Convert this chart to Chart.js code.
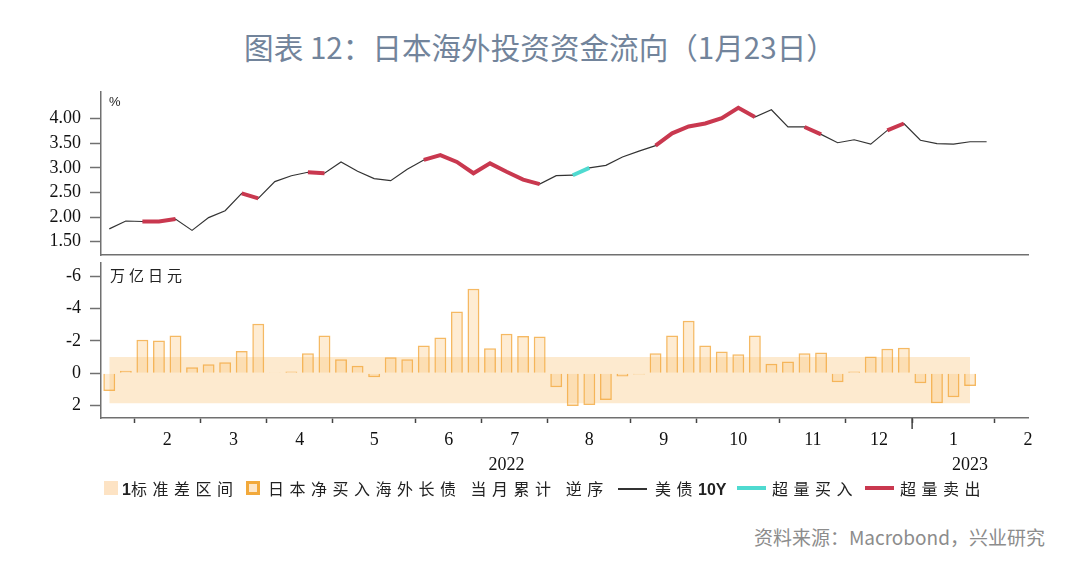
<!DOCTYPE html>
<html>
<head>
<meta charset="utf-8">
<script src="https://cdn.jsdelivr.net/npm/chart.js@4.4.1/dist/chart.umd.min.js"></script>
<style>
  html,body{margin:0;padding:0;background:#fff;}
  body{width:1080px;height:583px;position:relative;overflow:hidden;font-family:"Noto Sans CJK SC","Noto Sans",sans-serif;}
  #title{position:absolute;left:0;top:28px;width:1080px;text-align:center;font-size:29.6px;line-height:38px;color:#72849B;}
  #w1{position:absolute;left:0;top:80px;width:1080px;height:180px;}
  #w2{position:absolute;left:0;top:258px;width:1080px;height:220px;}
  .unit{position:absolute;color:#222;}
  #pct{left:109px;top:94px;font-family:"Liberation Sans",sans-serif;font-size:13px;}
  #yen{left:110px;top:264px;font-size:15px;letter-spacing:4px;line-height:22px;}
  .lg{position:absolute;top:477px;font-size:16px;line-height:22px;color:#222;letter-spacing:5.5px;white-space:nowrap;}
  .num{font-family:"Liberation Sans",sans-serif;font-weight:bold;letter-spacing:0;}
  .sw{position:absolute;}
  #src{position:absolute;right:35px;top:524px;font-size:19px;line-height:26px;color:#8C8C8C;}
</style>
</head>
<body>
<div id="title">图表 12：日本海外投资资金流向（1月23日）</div>
<div id="w1"><canvas id="c1" width="1080" height="180"></canvas></div>
<div id="w2"><canvas id="c2" width="1080" height="220"></canvas></div>
<div class="unit" id="pct">%</div>
<div class="unit" id="yen">万亿日元</div>

<div class="sw" style="left:104px;top:481px;width:14px;height:14px;background:#FDE3C4;"></div>
<div class="lg" style="left:122px;"><span class="num">1</span>标准差区间</div>
<div class="sw" style="left:246px;top:481px;width:14px;height:14px;box-sizing:border-box;border:3px solid #F2A93B;background:#FDE6C8;"></div>
<div class="lg" style="left:268px;">日本净买入海外长债 当月累计 逆序</div>
<div class="sw" style="left:618px;top:488px;width:29px;height:1.5px;background:#333;"></div>
<div class="lg" style="left:655px;">美债<span class="num">10Y</span></div>
<div class="sw" style="left:737px;top:486px;width:29px;height:4px;background:#4FDAD0;"></div>
<div class="lg" style="left:772px;">超量买入</div>
<div class="sw" style="left:865px;top:486px;width:29px;height:4px;background:#C9384F;"></div>
<div class="lg" style="left:900px;">超量卖出</div>

<div id="src">资料来源：Macrobond，兴业研究</div>

<script>
// ---- data (weekly, index 0 = mid-Jan 2022) ----
const ust10y = [1.76, 1.92, 1.91, 1.91, 1.96, 1.73, 1.99, 2.13, 2.48, 2.38,
                2.72, 2.84, 2.91, 2.89, 3.12, 2.93, 2.78, 2.74, 2.97, 3.16,
                3.26, 3.12, 2.89, 3.09, 2.92, 2.76, 2.67, 2.84, 2.85, 3.00,
                3.05, 3.22, 3.34, 3.45, 3.70, 3.84, 3.90, 4.01, 4.22, 4.03,
                4.18, 3.83, 3.83, 3.68, 3.51, 3.57, 3.48, 3.76, 3.90, 3.56,
                3.49, 3.48, 3.53, 3.53];
const jpNetBuy = [1.10, -0.15, -2.07, -2.02, -2.33, -0.37, -0.56, -0.68, -1.38, -3.06,
                  -0.05, -0.10, -1.24, -2.33, -0.87, -0.47, 0.25, -0.99, -0.87, -1.71,
                  -2.21, -3.82, -5.23, -1.55, -2.44, -2.31, -2.27, 0.87, 2.03, 1.97,
                  1.66, 0.21, 0.08, -1.24, -2.33, -3.24, -1.71, -1.34, -1.18, -2.33,
                  -0.58, -0.72, -1.24, -1.28, 0.56, -0.10, -1.03, -1.51, -1.57, 0.62,
                  1.86, 1.49, 0.79];
const sellWeeks = [2,3,4,8,9,12,13,19,20,21,22,23,24,25,26,33,34,35,36,37,38,39,42,43,47,48];
const buyWeeks = [28,29];
const bandLow = -1.00;
const bandHigh = 1.86;
const monthBounds = [1.5, 5.5, 9.5, 13.5, 18.5, 22.5, 26.5, 31.5, 35.5, 40.5, 44.5, 48.5, 53.5];
const monthLabels = ['2','3','4','5','6','7','8','9','10','11','12','1','2'];
const monthLabelPos = [3.5, 7.5, 11.5, 16, 20.5, 24.5, 29, 33.5, 38, 42.5, 46.5, 51, 55.5];
const yearBound = 48.5;
const yearLabels = ['2022','2023'];
const yearLabelPos = [24, 52];
const topTicks = [1.5, 1.75, 2.0, 2.25, 2.5, 2.75, 3.0, 3.25, 3.5, 3.75, 4.0, 4.25];
const bottomTicks = [-6, -5, -4, -3, -2, -1, 0, 1, 2];

// ---- shared styles ----
const AX = '#707070';
const tickFont = {family:'"Liberation Serif", "DejaVu Serif", serif', size:18};
const X_MIN = -0.5, X_MAX = 55.5;
const noPad = s => { s.paddingTop = 0; s.paddingBottom = 0; };

const lineData = ust10y.map((v,i)=>({x:i, y:v}));
const sellData = ust10y.map((v,i)=>({x:i, y: sellWeeks.includes(i) ? v : null}));
const buyData  = ust10y.map((v,i)=>({x:i, y: buyWeeks.includes(i) ? v : null}));

new Chart(document.getElementById('c1'), {
  type:'line',
  data:{datasets:[
    {label:'超量卖出', data:sellData, borderColor:'#C9384F', borderWidth:4, pointRadius:0, spanGaps:false, order:0},
    {label:'超量买入', data:buyData, borderColor:'#4FDAD0', borderWidth:4, pointRadius:0, spanGaps:false, order:1},
    {label:'美债10Y', data:lineData, borderColor:'#333', borderWidth:1.2, pointRadius:0, order:2}
  ]},
  options:{
    responsive:false, animation:false, devicePixelRatio:1,
    layout:{padding:{top:12, right:52, bottom:5, left:0}},
    plugins:{legend:{display:false}, tooltip:{enabled:false}},
    scales:{
      x:{type:'linear', min:X_MIN, max:X_MAX,
         grid:{display:false}, ticks:{display:false},
         border:{color:AX, width:1.5},
         afterFit(s){ s.height = 0; s.paddingLeft = 0; s.paddingRight = 0; }},
      y:{type:'linear', min:1.23, max:4.54,
         afterBuildTicks(s){ s.ticks = topTicks.map(v=>({value:v})); },
         afterFit(s){ s.width = 101; noPad(s); },
         ticks:{font:tickFont, color:'#111', padding:9,
                callback:(v)=> (Math.abs(v*2 - Math.round(v*2)) < 1e-6) ? v.toFixed(2) : ''},
         grid:{drawOnChartArea:false, drawTicks:true, tickLength:11, tickColor:AX, tickWidth:1.5},
         border:{color:AX, width:1.5}}
    }
  }
});

const barData = jpNetBuy.map((v,i)=>({x:i, y:v}));
const lastWeek = jpNetBuy.length - 1;
const bandLowData = [{x:0, y:bandLow}, {x:lastWeek, y:bandLow}];
const bandHighData = [{x:0, y:bandHigh}, {x:lastWeek, y:bandHigh}];

const xTicks = monthBounds.concat(monthLabelPos).sort((a,b)=>a-b);
const isBound = v => monthBounds.some(b=>Math.abs(b-v)<1e-6);

const yearPlugin = {
  id:'yearLabels',
  afterDraw(chart){
    const {ctx} = chart; const x = chart.scales.x;
    ctx.save();
    const px = x.getPixelForValue(yearBound);
    ctx.strokeStyle = '#444'; ctx.lineWidth = 1.5;
    ctx.beginPath(); ctx.moveTo(px, x.top); ctx.lineTo(px, x.top + 11); ctx.stroke();
    ctx.font = '18px "Liberation Serif", serif';
    ctx.fillStyle = '#111'; ctx.textAlign = 'center'; ctx.textBaseline = 'middle';
    yearLabels.forEach((t,i)=> ctx.fillText(t, x.getPixelForValue(yearLabelPos[i]), x.top + 47));
    ctx.restore();
  }
};

new Chart(document.getElementById('c2'), {
  data:{datasets:[
    {type:'bar', label:'日本净买入海外长债 当月累计 逆序', data:barData,
     backgroundColor:'rgba(251,200,130,0.35)', borderColor:'rgba(242,168,60,0.8)', borderWidth:1.5,
     barPercentage:0.9, categoryPercentage:0.8, order:0},
    {type:'line', label:'band-low', data:bandLowData, borderWidth:0, pointRadius:0, fill:false, order:2},
    {type:'line', label:'1标准差区间', data:bandHighData, borderWidth:0, pointRadius:0,
     fill:'-1', backgroundColor:'rgba(251,200,130,0.38)', order:1}
  ]},
  options:{
    responsive:false, animation:false, devicePixelRatio:1,
    layout:{padding:{top:5, right:52, bottom:0, left:0}},
    plugins:{legend:{display:false}, tooltip:{enabled:false}, filler:{propagate:false}},
    scales:{
      x:{type:'linear', min:X_MIN, max:X_MAX, offset:false,
         afterBuildTicks(s){ s.ticks = xTicks.map(v=>({value:v})); },
         afterFit(s){ s.height = 60; },
         ticks:{font:{family:'"Liberation Serif", serif', size:18}, color:'#111', padding:6,
                autoSkip:false, maxRotation:0, minRotation:0,
                callback:(v)=>{ const k = monthLabelPos.findIndex(p=>Math.abs(p-v)<1e-6); return (k>=0 && !isBound(v)) ? monthLabels[k] : ''; }},
         grid:{offset:false, drawOnChartArea:false, drawTicks:true, tickLength:5, tickWidth:1.5,
               tickColor:(c)=> (c.tick && isBound(c.tick.value)) ? '#444' : 'rgba(0,0,0,0)'},
         border:{color:AX, width:1.5}},
      y:{type:'linear', min:-6.82, max:2.77, reverse:true,
         afterBuildTicks(s){ s.ticks = bottomTicks.map(v=>({value:v})); },
         afterFit(s){ s.width = 101; noPad(s); },
         ticks:{font:tickFont, color:'#111', padding:9,
                callback:(v)=> (v % 2 === 0) ? String(v) : ''},
         grid:{drawOnChartArea:false, drawTicks:true, tickLength:11, tickColor:AX, tickWidth:1.5},
         border:{color:AX, width:1.5}}
    }
  },
  plugins:[yearPlugin]
});
</script>
</body>
</html>
